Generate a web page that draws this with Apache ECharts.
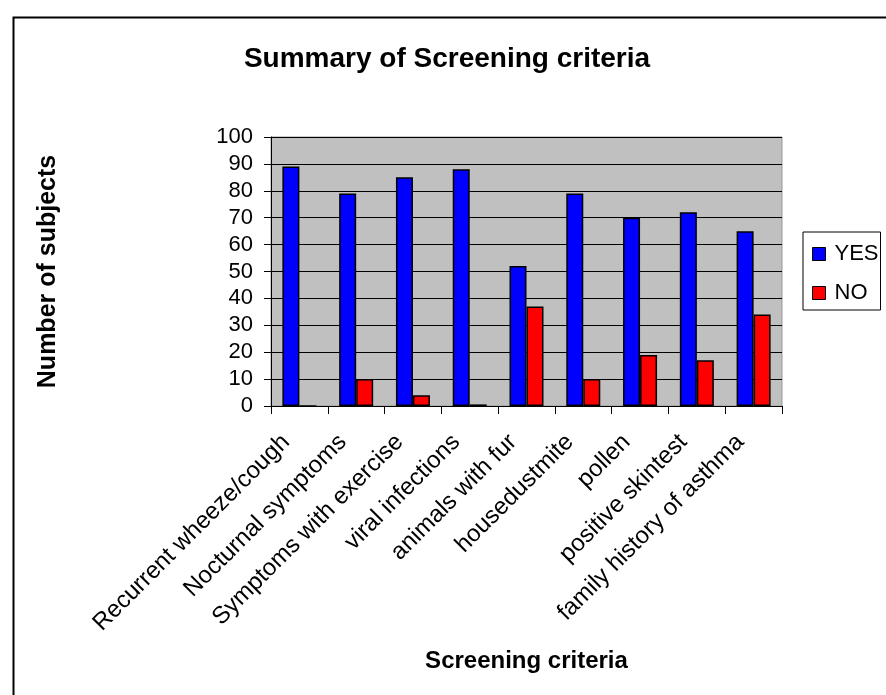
<!DOCTYPE html>
<html>
<head>
<meta charset="utf-8">
<script src="https://cdn.jsdelivr.net/npm/echarts@6/dist/echarts.min.js"></script>
<style>
html, body { margin: 0; padding: 0; background: #fff; }
#chart { width: 886px; height: 695px; }
</style>
</head>
<body>
<div id="chart"></div>
<script>
// Screening criteria and the number of subjects answering YES / NO
const categories = [
  'Recurrent wheeze/cough',
  'Nocturnal symptoms',
  'Symptoms with exercise',
  'viral infections',
  'animals with fur',
  'housedustmite',
  'pollen',
  'positive skintest',
  'family history of asthma'
];
const yesValues = [89, 79, 85, 88, 52, 79, 70, 72, 65];
const noValues = [0, 10, 4, 0.6, 37, 10, 19, 17, 34];
const yTicks = { min: 0, max: 100, step: 10 };

const font = 'Liberation Sans, Arial, sans-serif';
const chart = echarts.init(document.getElementById('chart'));

chart.setOption({
  backgroundColor: '#fff',
  animation: false,
  title: {
    text: 'Summary of Screening criteria',
    left: 442,
    top: 40,
    textAlign: 'center',
    textStyle: { fontFamily: font, fontSize: 28, fontWeight: 'bold', color: '#000' }
  },
  graphic: [
    {
      type: 'rect',
      left: 11, top: 15,
      shape: { width: 1000, height: 1000 },
      style: { fill: 'none', stroke: '#000', lineWidth: 2 },
      silent: true
    }
  ],
  legend: {
    orient: 'vertical',
    left: 803,
    top: 232,
    itemWidth: 13,
    itemHeight: 13,
    itemGap: 17,
    padding: [11, 2, 6, 9],
    backgroundColor: '#fff',
    borderColor: '#000',
    borderWidth: 1,
    itemStyle: { borderColor: '#000', borderWidth: 1 },
    textStyle: { fontFamily: font, fontSize: 22, lineHeight: 22, color: '#000', padding: [0, 0, 0, 4] },
    data: [
      { name: 'YES', icon: 'rect' },
      { name: 'NO', icon: 'rect' }
    ]
  },
  grid: {
    left: 271,
    top: 137,
    width: 511,
    height: 269,
    show: true,
    backgroundColor: '#C0C0C0',
    borderColor: '#999',
    borderWidth: 1
  },
  xAxis: {
    type: 'category',
    data: categories,
    name: 'Screening criteria',
    nameLocation: 'middle',
    nameGap: 243,
    nameTextStyle: { fontFamily: font, fontSize: 24, fontWeight: 'bold', color: '#000' },
    axisLine: { lineStyle: { color: '#000', width: 1 } },
    axisTick: { show: true, length: 8, lineStyle: { color: '#000' } },
    axisLabel: {
      interval: 0,
      rotate: 45,
      margin: 19,
      padding: [0, 19, 0, 0],
      fontFamily: font,
      fontSize: 24,
      color: '#000'
    }
  },
  yAxis: {
    type: 'value',
    min: yTicks.min,
    max: yTicks.max,
    interval: yTicks.step,
    name: 'Number of subjects',
    nameLocation: 'middle',
    nameGap: 210,
    nameRotate: 90,
    nameTextStyle: { fontFamily: font, fontSize: 25, fontWeight: 'bold', color: '#000' },
    axisLine: { show: true, lineStyle: { color: '#000', width: 1 } },
    axisTick: { show: true, length: 7, lineStyle: { color: '#000' } },
    axisLabel: { margin: 18, fontFamily: font, fontSize: 22, color: '#000' },
    splitLine: { show: true, lineStyle: { color: '#000', width: 1 } }
  },
  series: [
    {
      name: 'YES',
      type: 'bar',
      data: yesValues,
      barWidth: 17,
      barGap: '0%',
      itemStyle: { color: '#0000FF', borderColor: '#000', borderWidth: 1.5 }
    },
    {
      name: 'NO',
      type: 'bar',
      data: noValues,
      barWidth: 17,
      barGap: '0%',
      itemStyle: { color: '#FF0000', borderColor: '#000', borderWidth: 1.5 }
    }
  ]
});
</script>
</body>
</html>
